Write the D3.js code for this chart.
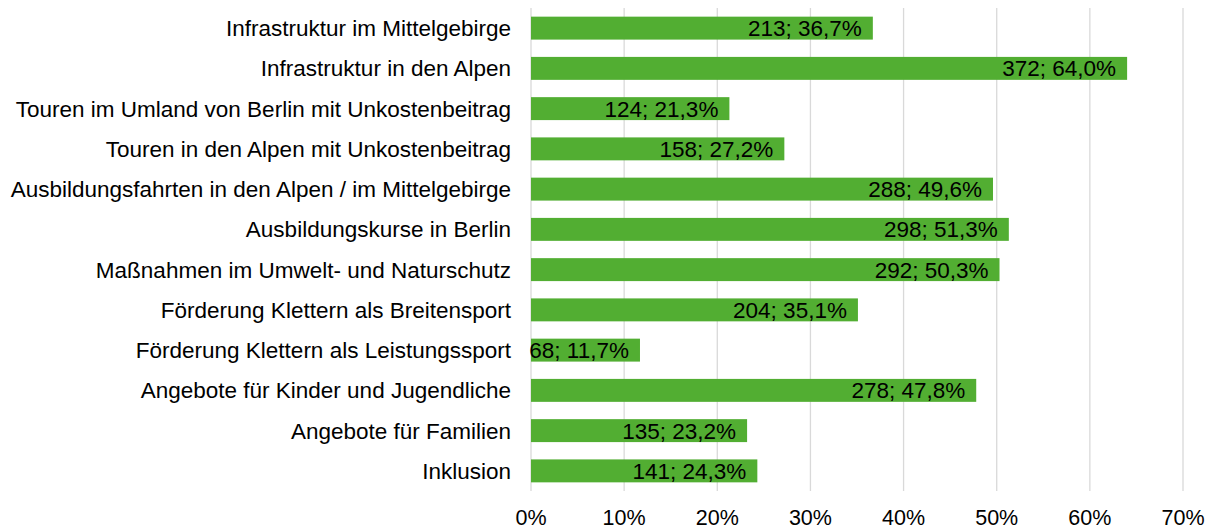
<!DOCTYPE html>
<html>
<head>
<meta charset="utf-8">
<script src="https://cdn.jsdelivr.net/npm/d3@7"></script>
<style>
  body { margin: 0; background: #fff; }
  text { font-family: "Liberation Sans", Arial, sans-serif; fill: #000; }
</style>
</head>
<body>
<div id="chart"></div>
<script>
// categories (top to bottom)
var categories = [
  "Infrastruktur im Mittelgebirge",
  "Infrastruktur in den Alpen",
  "Touren im Umland von Berlin mit Unkostenbeitrag",
  "Touren in den Alpen mit Unkostenbeitrag",
  "Ausbildungsfahrten in den Alpen / im Mittelgebirge",
  "Ausbildungskurse in Berlin",
  "Maßnahmen im Umwelt- und Naturschutz",
  "Förderung Klettern als Breitensport",
  "Förderung Klettern als Leistungssport",
  "Angebote für Kinder und Jugendliche",
  "Angebote für Familien",
  "Inklusion"
];
var counts = [213, 372, 124, 158, 288, 298, 292, 204, 68, 278, 135, 141];
var shares = [36.7, 64.0, 21.3, 27.2, 49.6, 51.3, 50.3, 35.1, 11.7, 47.8, 23.2, 24.3];
var ticks = [0, 10, 20, 30, 40, 50, 60, 70];

var attrs = {
  svgWidth: 1210,
  svgHeight: 530,
  marginLeft: 531,
  marginRight: 27,
  marginTop: 8,
  plotBottom: 491,
  barColor: "#52ae32",
  gridColor: "#d9d9d9",
  fontSize: 22.5,
  tickFontSize: 21.5
};

var data = categories.map(function (c, i) {
  return { name: c, count: counts[i], share: shares[i] };
});

var svg = d3.select("#chart").append("svg")
  .attr("width", attrs.svgWidth)
  .attr("height", attrs.svgHeight);

var x = d3.scaleLinear()
  .domain([0, 70])
  .range([attrs.marginLeft, attrs.svgWidth - attrs.marginRight]);

var y = d3.scaleBand()
  .domain(categories)
  .range([attrs.marginTop, attrs.plotBottom])
  .paddingInner(0.43)
  .paddingOuter(0.215);

// gridlines
svg.append("g").attr("class", "grid")
  .selectAll("line")
  .data(ticks)
  .enter().append("line")
  .attr("x1", function (d) { return x(d); })
  .attr("x2", function (d) { return x(d); })
  .attr("y1", attrs.marginTop)
  .attr("y2", attrs.plotBottom)
  .attr("stroke", attrs.gridColor)
  .attr("stroke-width", 1.3);

// bars
svg.append("g").attr("class", "bars")
  .selectAll("rect")
  .data(data)
  .enter().append("rect")
  .attr("x", x(0))
  .attr("y", function (d) { return y(d.name); })
  .attr("width", function (d) { return x(d.share) - x(0); })
  .attr("height", y.bandwidth())
  .attr("fill", attrs.barColor);

// value labels (inside end)
svg.append("g").attr("class", "values")
  .selectAll("text")
  .data(data)
  .enter().append("text")
  .attr("x", function (d) { return x(d.share) - 11; })
  .attr("y", function (d) { return y(d.name) + y.bandwidth() / 2; })
  .attr("dy", "0.36em")
  .attr("text-anchor", "end")
  .style("font-size", attrs.fontSize + "px")
  .text(function (d) { return d.count + "; " + d.share.toFixed(1).replace(".", ",") + "%"; });

// category axis
svg.append("g").attr("class", "cats")
  .selectAll("text")
  .data(categories)
  .enter().append("text")
  .attr("x", attrs.marginLeft - 20)
  .attr("y", function (d) { return y(d) + y.bandwidth() / 2; })
  .attr("dy", "0.36em")
  .attr("text-anchor", "end")
  .style("font-size", attrs.fontSize + "px")
  .text(function (d) { return d; });

// x axis tick labels
svg.append("g").attr("class", "xticks")
  .selectAll("text")
  .data(ticks)
  .enter().append("text")
  .attr("x", function (d) { return x(d); })
  .attr("y", 517)
  .attr("dy", "0.36em")
  .attr("text-anchor", "middle")
  .style("font-size", attrs.tickFontSize + "px")
  .text(function (d) { return d + "%"; });
</script>
</body>
</html>
